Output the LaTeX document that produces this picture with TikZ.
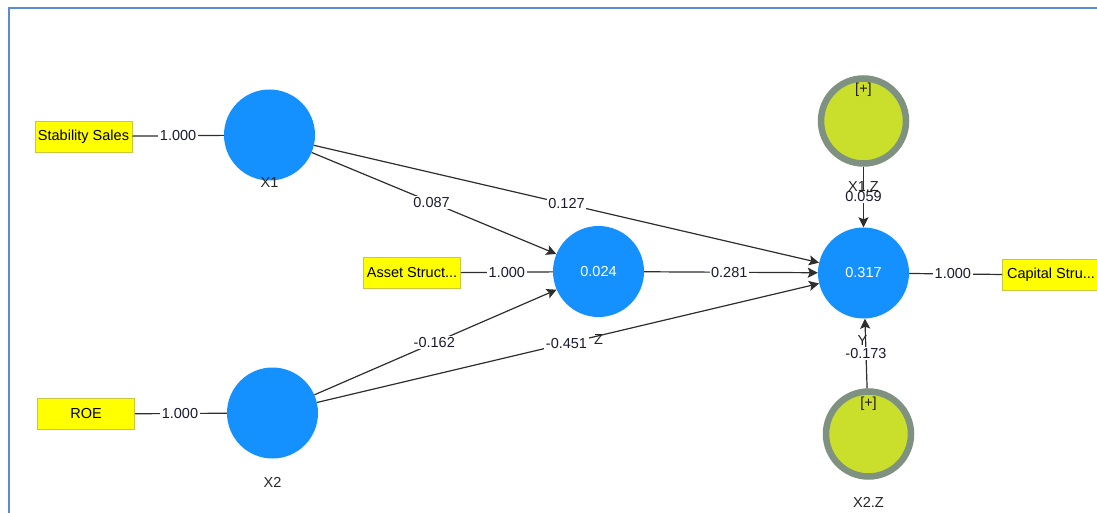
\documentclass[tikz,border=0pt]{standalone}
\usepackage{fontspec}
\setmainfont{Liberation Sans}
\usetikzlibrary{arrows.meta}
\definecolor{lvblue}{HTML}{1591FF}
\definecolor{indyel}{HTML}{FFFF00}
\definecolor{indbrd}{HTML}{C8C840}
\definecolor{modfill}{HTML}{C9DF2B}
\definecolor{modring}{HTML}{7F9180}
\definecolor{framecol}{HTML}{5B8BD1}
\definecolor{edgecol}{HTML}{2E2E2E}
\definecolor{txtcol}{HTML}{1A1A30}
\tikzset{
  x=1pt, y=-1pt,
  every node/.style={font=\fontsize{14.5}{16}\selectfont},
  latent/.style={circle, fill=lvblue, minimum size=91pt, inner sep=0pt, text=white},
  modcirc/.style={circle, fill=modfill, draw=modring, line width=6.5pt, minimum size=85pt, inner sep=0pt},
  indbox/.style={rectangle, fill=indyel, draw=indbrd, line width=0.8pt, minimum width=97pt, minimum height=31pt, inner sep=0pt},
  conn/.style={draw=edgecol, line width=1.2pt},
  path/.style={conn, -{Stealth[length=10pt,width=10pt,inset=2pt]}},
  elabel/.style={fill=white, inner sep=1.5pt, text=txtcol, pos=0.5},
  lvname/.style={text=black!85},
}
\begin{document}
\begin{tikzpicture}
\useasboundingbox (0,0) rectangle (1097,513);
\clip (0,0) rectangle (1097,513);
\fill[white] (0,0) rectangle (1097,513);
\draw[framecol, line width=2pt] (8.5,530) -- (8.5,8.5) -- (1110,8.5);

% latent variables
\node[latent] (X1) at (269.5,135) {};
\node[latent] (X2) at (272.5,413) {};
\node[latent] (Z) at (598.5,271.5) {0.024};
\node[latent] (Y) at (863.5,273) {0.317};
\node[modcirc] (X1Z) at (863.5,121) {};
\node[modcirc] (X2Z) at (868.5,434) {};
\node[text=black!80!brown, anchor=north, inner sep=0pt] (X1Zplus) at (863.5,83) {[+]};
\node[text=black!80!brown, anchor=north, inner sep=0pt] (X2Zplus) at (868.5,397) {[+]};

% indicators
\node[indbox] (SS) at (83.5,136.5) {Stability Sales};
\node[indbox] (ROE) at (86,414) {ROE};
\node[indbox] (AS) at (412,273) {Asset Struct...};
\node[indbox] (CS) at (1051,275) {Capital Stru...};

% measurement connectors
\draw[conn] (SS) -- node[elabel] {1.000} (X1);
\draw[conn] (ROE) -- node[elabel, pos=0.49] {1.000} (X2);
\draw[conn] (AS) -- node[elabel] {1.000} (Z);
\draw[conn] (Y) -- node[elabel, pos=0.47] {1.000} (CS);

% structural paths
\draw[path] (X1) -- node[elabel, pos=0.49] {0.087} (Z);
\draw[path] (X1) -- node[elabel, pos=0.5] {0.127} (Y);
\draw[path] (X2) -- node[elabel, pos=0.495] {-0.162} (Z);
\draw[path] (X2) -- node[elabel, pos=0.497] {-0.451} (Y);
\draw[path] (Z) -- node[elabel, pos=0.49] {0.281} (Y);
\draw[path] (X1Z) -- node[elabel, pos=0.49] {0.059} (Y);
\draw[path] (X2Z) -- node[elabel, pos=0.5] {-0.173} (Y);

% latent variable names
\node[lvname] (X1n) at (269.5,183) {X1};
\node[lvname] (X2n) at (272.5,482) {X2};
\node[lvname] (Zn) at (598.5,340) {Z};
\node[lvname] (Yn) at (862.5,341) {Y};
\node[lvname] (X1Zn) at (863.5,187) {X1.Z};
\node[lvname] (X2Zn) at (868.5,502) {X2.Z};
\end{tikzpicture}
\end{document}
